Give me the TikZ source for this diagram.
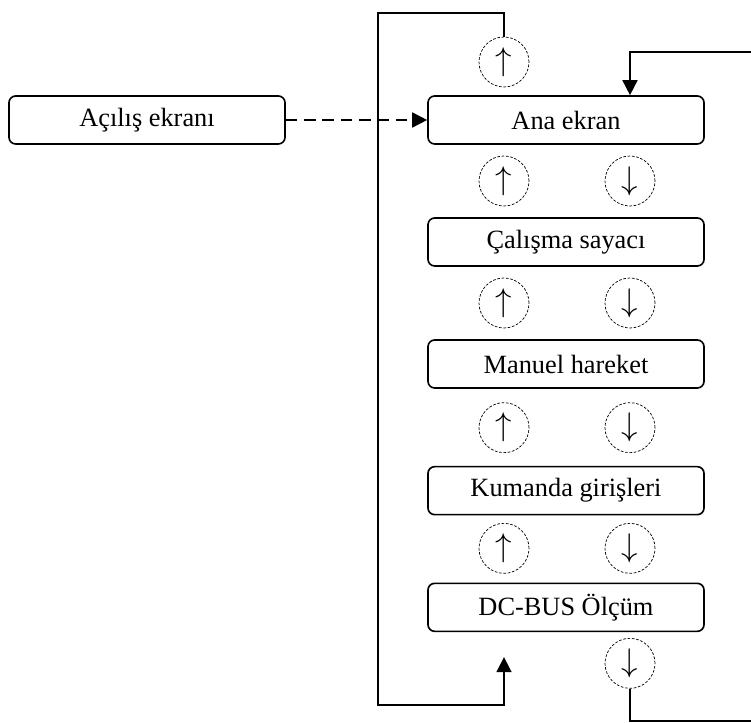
\documentclass[tikz,border=0pt]{standalone}
\usepackage{fix-cm}
\usepackage{fontspec}
\setmainfont{Liberation Serif}
\usetikzlibrary{positioning, arrows.meta, calc}
\tikzset{
>={Triangle[length=0.45cm, width=0.45cm]}, % filled triangle heads
screen/.style={draw, line width=1.4pt, rounded corners=0.2cm, minimum width=8.28cm, minimum height=1.44cm, font=\fontsize{22.5}{26}\selectfont}, % one menu page
key/.style={draw, circle, line width=0.6pt, dash pattern=on 0.08cm off 0.05cm, minimum size=1.5cm, inner sep=0pt, font=\fontsize{28}{30}\selectfont}, % button symbol
link/.style={line width=1.4pt}, % connector lines
}

\begin{document}
\begin{tikzpicture}[node distance=3.66cm, on grid]
    \useasboundingbox (0,0) rectangle (22.53,-21.69);

    \node[screen] (ana) at (16.98,-3.6) {Ana ekran};
    \node[screen, left=12.57cm of ana] (acilis) {Açılış ekranı};
    \node[screen, below of=ana] (calisma) {Çalışma sayacı};
    \node[screen, below of=calisma] (manuel) {Manuel hareket};
    \node[screen, below=3.8cm of manuel] (kumanda) {Kumanda girişleri};
    \node[screen, below=3.5cm of kumanda] (dcbus) {DC-BUS Ölçüm};

    \node[key, above left=1.74cm and 1.86cm of ana] (up0) {$\uparrow$};
    \node[key, above left=1.83cm and 1.86cm of calisma] (up1) {$\uparrow$};
    \node[key, above right=1.83cm and 1.92cm of calisma] (dn1) {$\downarrow$};
    \node[key, above left=1.83cm and 1.86cm of manuel] (up2) {$\uparrow$};
    \node[key, above right=1.83cm and 1.92cm of manuel] (dn2) {$\downarrow$};
    \node[key, above left=1.89cm and 1.86cm of kumanda] (up3) {$\uparrow$};
    \node[key, above right=1.89cm and 1.92cm of kumanda] (dn3) {$\downarrow$};
    \node[key, above left=1.77cm and 1.86cm of dcbus] (up4) {$\uparrow$};
    \node[key, above right=1.77cm and 1.92cm of dcbus] (dn4) {$\downarrow$};
    \node[key, below right=1.68cm and 1.92cm of dcbus] (dn5) {$\downarrow$};

    \coordinate (loopTL) at (11.34,-0.39);
    \coordinate (loopBL) at (11.34,-21.15);
    \coordinate (retL) at ($(dcbus.south -| up4)+(0,-0.75)$);
    \coordinate (loopBR) at (22.8,-21.63);
    \coordinate (loopTR) at (22.8,-1.56);

    \draw[link, ->, dash pattern=on 0.35cm off 0.2cm] (acilis) -- (ana);
    \draw[link, ->] (up0.north) |- (loopTL) -- (loopBL) -| (retL);
    \draw[link, ->] (dn5.south) |- (loopBR) -- (loopTR) -| (ana.north -| dn1);
\end{tikzpicture}
\end{document}
